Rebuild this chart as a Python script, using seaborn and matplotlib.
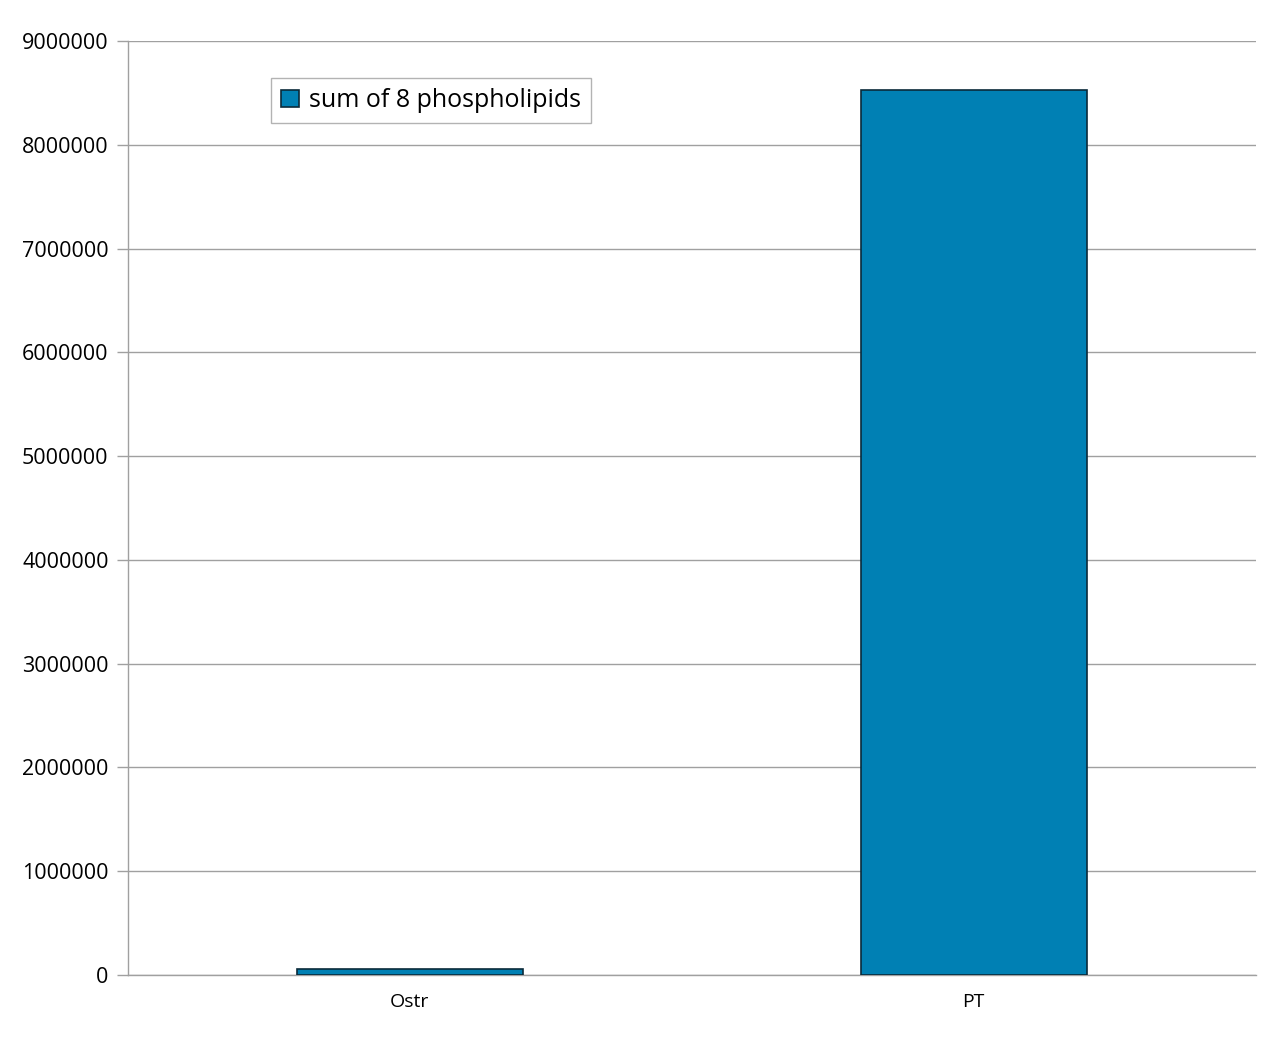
import seaborn as sns
import pandas as pd
import numpy as np
import matplotlib.pyplot as plt
import matplotlib

sns.set_style('white')
plt.rcParams['font.family'] = ['Open Sans', 'DejaVu Sans']
plt.rcParams['text.color'] = 'black'
plt.rcParams['xtick.color'] = 'black'
plt.rcParams['ytick.color'] = 'black'

samples = ['Ostr', 'PT']
series_name = 'sum of 8 phospholipids'
totals = [58000, 8530000]
y_ticks = [0, 1000000, 2000000, 3000000, 4000000, 5000000, 6000000, 7000000, 8000000, 9000000]

df = pd.DataFrame({'sample': samples, 'value': totals, 'series': series_name})

fig = plt.figure(figsize=(12.8, 10.41), dpi=100)
ax = fig.add_axes([0.1, 0.0634, 0.881, 0.8972])

sns.barplot(data=df, x='sample', y='value', hue='series', palette=['#0080b4'],
            saturation=1, width=0.4, edgecolor='#0a2a3a', linewidth=1.2, ax=ax, zorder=3)

ax.set_xlim(-0.5, 1.5)
ax.set_ylim(0, 9000000)
ax.set_yticks(y_ticks)
ax.set_yticklabels([str(t) for t in y_ticks], fontsize=15.5)
ax.yaxis.grid(True, color='#a0a0a0', linewidth=1, zorder=0)
ax.set_axisbelow(True)
ax.set_xlabel('')
ax.set_ylabel('')

ax.set_xticks([0, 1])
ax.set_xticklabels(samples, fontsize=14)
ax.set_xticks([-0.5, 0.5, 1.5], minor=True)
ax.tick_params(axis='x', which='major', length=0, pad=13)
ax.tick_params(axis='x', which='minor', length=8, color='#a0a0a0', width=1, direction='out')
ax.tick_params(axis='y', length=8, color='#a0a0a0', width=1, direction='out', pad=6, left=True)

for s in ['top', 'right']:
    ax.spines[s].set_visible(False)
for s in ['left', 'bottom']:
    ax.spines[s].set_color('#a0a0a0')
    ax.spines[s].set_linewidth(1)

leg = ax.legend(loc='upper left', bbox_to_anchor=(0.127, 0.960), borderaxespad=0,
                fontsize=18, fancybox=False, frameon=True, handlelength=0.7,
                handleheight=0.7, handletextpad=0.4, borderpad=0.4)
leg.get_frame().set_edgecolor('#a0a0a0')
leg.get_frame().set_linewidth(1)

plt.savefig('out.png', dpi=100)
